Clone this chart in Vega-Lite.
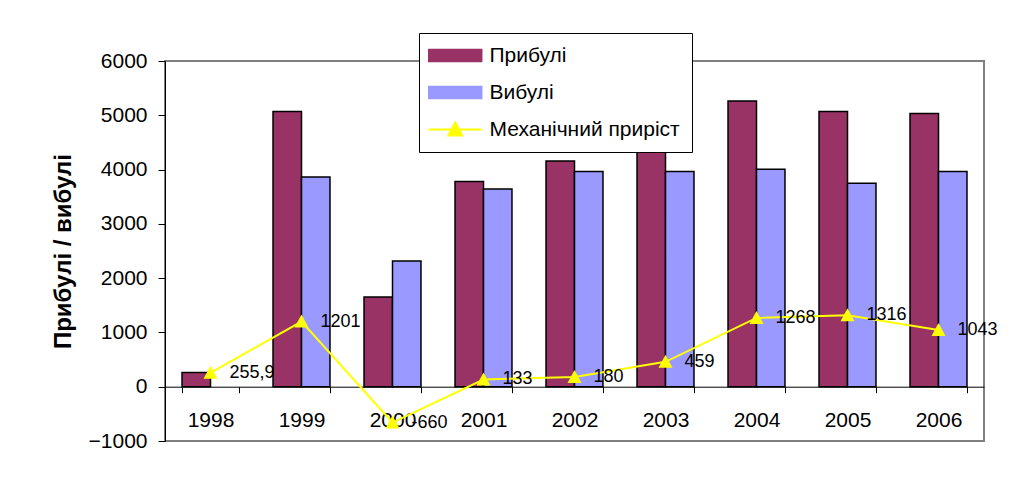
{
  "$schema": "https://vega.github.io/schema/vega-lite/v6.json",
  "width": 819,
  "height": 380,
  "autosize": {"type": "none"},
  "padding": {"left": 165, "top": 61, "right": 46, "bottom": 40},
  "background": "white",
  "config": {
    "font": "Liberation Sans",
    "view": {"stroke": "#808080", "strokeWidth": 2}
  },
  "datasets": {
    "bars": [
      {"year": "1998", "series": "Прибулі", "value": 260},
      {"year": "1999", "series": "Прибулі", "value": 5070},
      {"year": "1999", "series": "Вибулі", "value": 3862},
      {"year": "2000", "series": "Прибулі", "value": 1652},
      {"year": "2000", "series": "Вибулі", "value": 2315},
      {"year": "2001", "series": "Прибулі", "value": 3781},
      {"year": "2001", "series": "Вибулі", "value": 3640},
      {"year": "2002", "series": "Прибулі", "value": 4156},
      {"year": "2002", "series": "Вибулі", "value": 3965},
      {"year": "2003", "series": "Прибулі", "value": 4424},
      {"year": "2003", "series": "Вибулі", "value": 3965},
      {"year": "2004", "series": "Прибулі", "value": 5261},
      {"year": "2004", "series": "Вибулі", "value": 4007},
      {"year": "2005", "series": "Прибулі", "value": 5070},
      {"year": "2005", "series": "Вибулі", "value": 3750},
      {"year": "2006", "series": "Прибулі", "value": 5033},
      {"year": "2006", "series": "Вибулі", "value": 3965}
    ],
    "mech": [
      {"year": "1998", "series": "Механічний приріст", "value": 255.9, "label": "255,9"},
      {"year": "1999", "series": "Механічний приріст", "value": 1201, "label": "1201"},
      {"year": "2000", "series": "Механічний приріст", "value": -660, "label": "-660"},
      {"year": "2001", "series": "Механічний приріст", "value": 133, "label": "133"},
      {"year": "2002", "series": "Механічний приріст", "value": 180, "label": "180"},
      {"year": "2003", "series": "Механічний приріст", "value": 459, "label": "459"},
      {"year": "2004", "series": "Механічний приріст", "value": 1268, "label": "1268"},
      {"year": "2005", "series": "Механічний приріст", "value": 1316, "label": "1316"},
      {"year": "2006", "series": "Механічний приріст", "value": 1043, "label": "1043"}
    ]
  },
  "encoding": {
    "x": {
      "field": "year",
      "type": "nominal",
      "scale": {"paddingInner": 0.374, "paddingOuter": 0.187},
      "axis": {
        "title": null,
        "orient": "bottom",
        "offset": -54.3,
        "labelAngle": 0,
        "labelFontSize": 21,
        "labelColor": "black",
        "labelPadding": 17,
        "domainColor": "black",
        "domainWidth": 1,
        "tickColor": "black",
        "tickSize": 6,
        "tickBand": "extent",
        "grid": false
      }
    }
  },
  "layer": [
    {
      "data": {"name": "bars"},
      "mark": {"type": "bar", "stroke": "black", "strokeWidth": 1.5},
      "encoding": {
        "xOffset": {
          "field": "series",
          "type": "nominal",
          "sort": ["Прибулі", "Вибулі"],
          "scale": {"paddingInner": 0, "paddingOuter": 0}
        },
        "y": {
          "field": "value",
          "type": "quantitative",
          "scale": {"domain": [-1000, 6000], "nice": false, "zero": false},
          "axis": {
            "title": "Прибулі / вибулі",
            "titleFontSize": 24,
            "titleFontWeight": "bold",
            "titleColor": "black",
            "titlePadding": 13,
            "format": "d",
            "values": [-1000, 0, 1000, 2000, 3000, 4000, 5000, 6000],
            "labelFontSize": 21,
            "labelColor": "black",
            "labelPadding": 11,
            "tickSize": 7,
            "tickColor": "black",
            "domainColor": "black",
            "domainWidth": 1,
            "grid": false
          }
        },
        "color": {
          "field": "series",
          "type": "nominal",
          "scale": {
            "domain": ["Прибулі", "Вибулі", "Механічний приріст"],
            "range": ["#993366", "#9999FF", "#FFFF00"]
          },
          "legend": {
            "title": null,
            "orient": "none",
            "legendX": 254,
            "legendY": -28,
            "direction": "vertical",
            "symbolSize": 576,
            "symbolType": {"expr": "datum.value === 'Механічний приріст' ? 'M-1.06,0L3.35,0M1.146,-0.583L1.729,0.5L0.563,0.5Z' : 'M-1.06,-0.5L3.35,-0.5L3.35,0.5L-1.06,0.5Z'"},
            "symbolStrokeColor": {"expr": "datum.value === 'Механічний приріст' ? '#FFFF00' : 'black'"},
            "symbolStrokeWidth": {"expr": "datum.value === 'Механічний приріст' ? 2 : 1.5"},
            "symbolFillColor": {"expr": "datum.value === 'Прибулі' ? '#993366' : datum.value === 'Вибулі' ? '#9999FF' : '#FFFF00'"},
            "symbolOpacity": 1,
            "labelFontSize": 21,
            "labelColor": "black",
            "labelOffset": 37.5,
            "labelLimit": 400,
            "rowPadding": 15,
            "padding": 12,
            "strokeColor": "black",
            "fillColor": "white",
            "zindex": 2
          }
        }
      }
    },
    {
      "data": {"name": "mech"},
      "mark": {"type": "line", "strokeWidth": 2},
      "encoding": {
        "y": {"field": "value", "type": "quantitative"},
        "color": {"field": "series", "type": "nominal", "legend": null}
      }
    },
    {
      "data": {"name": "mech"},
      "mark": {"type": "point", "filled": true, "opacity": 1, "shape": "M0,-1L1,0.857L-1,0.857Z", "size": 196},
      "encoding": {
        "y": {"field": "value", "type": "quantitative"},
        "color": {"field": "series", "type": "nominal", "legend": null}
      }
    },
    {
      "data": {"name": "mech"},
      "mark": {"type": "text", "align": "left", "baseline": "middle", "dx": 19, "fontSize": 18, "color": "black"},
      "encoding": {
        "y": {"field": "value", "type": "quantitative"},
        "text": {"field": "label"}
      }
    }
  ]
}
